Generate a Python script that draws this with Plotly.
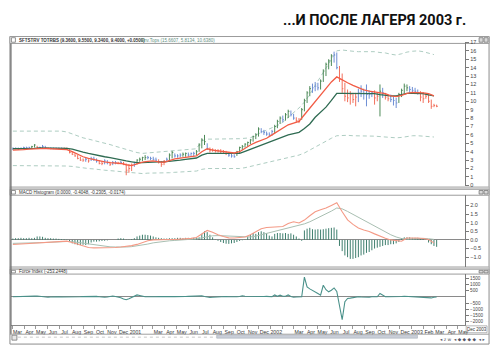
import plotly.graph_objects as go
import pandas as pd

W, H = 500, 351
TITLE = "...И ПОСЛЕ ЛАГЕРЯ 2003 г."
HEADER_PRICE = "SFTSTRV TOTRBS (9.3600, 9.5500, 9.3400, 9.4000, +0.0500)"
HEADER_ENV = "Env.Tops (15.6607, 5.8134, 10.6380)"
HEADER_MACD = "MACD Histogram (0.0000, -0.4048, -0.2305, -0.0174)"
HEADER_FORCE = "Force Index (-253.2448)"
START = "2000-03-03"

# weekly price bars
LOW = [4.2,4.3,4.2,4.3,4.3,4.4,4.4,4.4,4.5,4.4,
       4.4,4.4,4.4,4.3,4.3,4.3,4.3,4.3,4.3,4.3,
       4.2,3.8,3.6,3.4,3.1,2.9,2.8,2.8,2.7,2.9,
       2.9,2.7,2.5,2.4,2.5,2.5,2.3,2.4,2.5,2.5,
       2.6,2.4,1.2,1.5,1.7,2.2,2.5,2.8,2.9,3.0,
       3.1,3.0,3.0,2.9,2.6,2.2,2.4,2.8,3.0,3.2,
       3.3,3.3,3.3,3.4,3.4,3.4,3.5,3.5,3.6,4.0,
       4.4,4.8,4.2,3.9,4.0,3.9,3.9,3.8,3.8,3.6,
       3.4,3.3,3.3,3.5,3.8,4.2,4.5,4.6,4.9,5.2,
       5.5,5.8,6.2,6.0,5.9,5.8,5.9,6.2,6.8,7.3,
       7.5,7.7,8.0,8.2,7.8,7.5,7.4,7.8,8.8,9.8,
       10.6,11.0,11.2,11.3,11.4,12.3,13.0,13.8,14.2,14.6,
       13.8,12.3,11.0,10.0,9.9,9.6,9.8,9.4,9.9,10.5,
       10.2,9.4,10.3,10.5,9.6,10.0,8.2,10.4,10.2,10.0,
       9.9,9.5,9.2,9.8,10.5,10.9,11.2,11.0,11.0,10.9,
       10.8,10.0,9.8,10.3,9.8,9.1,9.3,9.3]
HIGH = [4.5,4.5,4.5,4.5,4.6,4.6,4.6,4.7,4.9,4.7,
        4.6,4.8,4.7,4.5,4.5,4.5,4.5,4.5,4.5,4.5,
        4.5,4.3,4.0,3.8,3.6,3.4,3.2,3.3,3.1,3.4,
        3.4,3.2,3.0,2.9,3.1,3.0,2.8,2.9,2.9,2.8,
        2.9,2.8,2.6,2.5,2.6,2.8,3.1,3.3,3.4,3.6,
        3.5,3.4,3.4,3.3,3.1,2.9,3.0,3.3,3.8,4.1,
        3.8,3.7,3.8,3.9,3.9,3.9,3.9,4.0,4.2,5.0,
        5.6,6.0,5.0,4.5,4.4,4.3,4.3,4.3,4.2,4.1,
        3.9,3.8,3.7,4.1,4.6,4.8,5.0,5.2,5.5,5.9,
        6.2,6.9,6.8,6.6,6.4,6.3,6.6,7.2,7.8,8.2,
        8.3,8.6,9.0,8.9,8.5,8.1,8.0,9.2,10.3,11.2,
        11.8,12.1,12.3,12.2,12.6,13.8,14.6,15.0,15.6,15.9,
        15.8,14.2,13.3,12.2,11.4,11.2,11.0,11.0,11.5,11.9,
        11.5,12.0,11.3,11.2,11.3,11.0,12.0,11.6,11.0,10.8,
        10.8,10.6,10.4,11.0,11.5,12.1,12.0,11.8,11.7,11.6,
        11.4,11.2,11.1,11.0,10.9,10.2,9.7,9.6]
CLOSE = [4.4,4.4,4.3,4.4,4.5,4.5,4.5,4.6,4.8,4.5,
         4.5,4.6,4.5,4.4,4.4,4.4,4.4,4.4,4.4,4.4,
         4.3,3.9,3.7,3.5,3.2,3.0,3.0,3.1,2.9,3.2,
         3.1,2.9,2.6,2.6,2.9,2.7,2.5,2.7,2.7,2.6,
         2.7,2.5,1.8,2.0,2.4,2.7,3.0,3.1,3.3,3.3,
         3.3,3.2,3.1,3.0,2.8,2.5,2.9,3.1,3.6,3.9,
         3.5,3.5,3.6,3.7,3.8,3.6,3.8,3.8,4.0,4.8,
         5.4,5.2,4.4,4.2,4.2,4.1,4.1,4.0,4.0,3.8,
         3.6,3.5,3.4,4.0,4.5,4.6,4.9,5.1,5.4,5.8,
         6.0,6.7,6.4,6.3,6.1,6.0,6.4,7.0,7.6,8.0,
         7.8,8.4,8.8,8.4,8.0,7.7,7.6,9.0,10.1,11.0,
         11.5,11.6,11.8,11.6,12.4,13.6,14.4,14.8,15.4,15.5,
         14.0,12.6,11.5,10.6,10.4,10.8,10.2,10.5,11.0,11.2,
         10.9,10.8,10.8,11.0,10.4,10.6,11.2,11.0,10.5,10.3,
         10.2,10.1,9.8,10.8,11.3,11.8,11.6,11.4,11.3,11.2,
         11.0,10.5,10.3,10.6,10.0,9.4,9.5,9.4]
IMPULSE = ("bbbbbbbggr" "bbbrbbbbbr" "rrrrrrrbrb" "bbrrbbrbbr" "brrrrbgggg"
           "bbbbrrrbgg" "bbbggbbbgg" "ggbrrrrrrr" "bbbggggggg" "ggbbbbbggg"
           "bggbbrrggg" "gbbbgggggb" "brrrrrrrbb" "bbbbrrgbrr" "bbbggggbbb"
           "brrrrrrr")

# every second week
RED_MA = [4.2,4.2,4.25,4.3,4.35,4.4,4.4,4.35,4.3,4.3,
          4.25,4.0,3.7,3.4,3.2,3.05,2.9,2.8,2.7,2.65,
          2.6,2.45,2.35,2.55,2.75,2.85,2.9,2.8,2.75,2.95,
          3.15,3.25,3.35,3.4,3.5,4.0,4.35,4.2,4.1,4.0,
          3.9,3.85,4.0,4.45,4.8,5.1,5.4,5.6,6.0,6.4,
          6.8,7.2,7.4,7.6,8.4,9.2,10.0,10.8,11.5,12.3,
          12.9,12.5,12.2,11.9,11.6,11.35,11.2,11.1,11.0,10.9,
          10.65,10.55,10.7,10.95,11.05,11.05,11.0,10.9,10.65]
GREEN_MA = [4.35,4.35,4.4,4.4,4.4,4.45,4.45,4.45,4.45,4.45,
            4.4,4.3,4.1,3.95,3.8,3.65,3.5,3.4,3.3,3.15,
            3.0,2.9,2.8,2.7,2.7,2.75,2.8,2.8,2.8,2.85,
            2.95,3.0,3.1,3.15,3.25,3.6,3.8,3.8,3.8,3.75,
            3.75,3.75,3.8,4.05,4.3,4.55,4.8,5.0,5.3,5.55,
            5.8,6.0,6.15,6.3,6.75,7.3,8.1,8.7,9.3,10.1,
            10.95,10.95,10.95,10.95,10.95,10.95,10.95,10.9,10.8,10.7,
            10.65,10.65,10.8,10.95,10.95,10.95,10.9,10.75,10.65]
ENV_UP = [6.45,6.45,6.45,6.45,6.5,6.5,6.5,6.5,6.5,6.45,
          6.35,6.1,5.85,5.65,5.5,5.35,5.15,5.0,4.85,4.65,
          4.45,4.3,4.1,3.9,3.8,3.85,3.95,4.0,4.05,4.1,
          4.15,4.2,4.25,4.3,4.35,5.3,5.5,5.5,5.5,5.5,
          5.5,5.5,5.55,5.6,5.65,6.0,6.3,6.6,6.85,7.1,
          7.5,8.1,8.6,9.2,9.9,10.8,11.9,12.9,13.9,14.9,
          16.0,16.1,16.0,15.95,15.9,15.9,15.85,15.9,15.8,15.75,
          15.6,15.5,15.65,15.85,15.95,16.0,15.9,15.75,15.55]
ENV_LO = [2.35,2.35,2.35,2.35,2.35,2.35,2.35,2.35,2.35,2.35,
          2.3,2.25,2.15,2.1,2.0,1.95,1.85,1.8,1.75,1.7,
          1.6,1.55,1.5,1.45,1.4,1.45,1.45,1.5,1.5,1.5,
          1.55,1.6,1.65,1.65,1.7,1.9,2.0,2.0,2.0,2.0,
          2.0,2.0,2.0,2.1,2.25,2.4,2.55,2.7,2.85,3.0,
          3.1,3.25,3.4,3.6,3.85,4.2,4.55,4.9,5.3,5.6,
          5.9,5.95,5.95,5.9,5.9,5.85,5.85,5.85,5.8,5.75,
          5.7,5.65,5.7,5.8,5.9,5.9,5.85,5.8,5.75]
MACD = [-0.27,-0.25,-0.22,-0.2,-0.17,-0.14,-0.12,-0.1,-0.08,-0.07,
        -0.07,-0.15,-0.24,-0.35,-0.44,-0.46,-0.46,-0.46,-0.46,-0.44,
        -0.41,-0.38,-0.33,-0.26,-0.16,-0.05,0.0,0.02,0.02,0.02,
        0.02,0.03,0.06,0.09,0.14,0.35,0.55,0.45,0.3,0.2,
        0.12,0.11,0.14,0.17,0.3,0.5,0.65,0.72,0.74,0.76,
        0.78,0.95,1.05,0.98,1.15,1.4,1.63,1.75,1.85,2.0,
        2.15,1.63,1.16,0.9,0.69,0.58,0.49,0.35,0.21,0.1,
        0.0,-0.06,-0.08,0.11,0.12,0.11,0.08,0.02,-0.17]
SIGNAL = [-0.2,-0.2,-0.2,-0.19,-0.18,-0.16,-0.15,-0.13,-0.12,-0.1,
          -0.09,-0.1,-0.14,-0.19,-0.25,-0.3,-0.34,-0.37,-0.4,-0.41,
          -0.42,-0.41,-0.39,-0.35,-0.3,-0.24,-0.17,-0.12,-0.08,-0.05,
          -0.03,-0.01,0.01,0.03,0.06,0.12,0.2,0.24,0.25,0.24,
          0.22,0.2,0.18,0.16,0.17,0.22,0.3,0.38,0.45,0.52,
          0.59,0.67,0.76,0.83,0.93,1.05,1.2,1.35,1.5,1.67,
          1.85,1.8,1.65,1.48,1.3,1.1,0.93,0.77,0.6,0.45,
          0.3,0.17,0.08,0.05,0.07,0.09,0.09,0.07,0.03]
# weekly
HIST = [0.08,0.1,0.1,0.12,0.1,0.1,0.12,0.1,0.12,
        0.2,0.2,0.18,
        0.12,0.1,0.1,0.08,0.08,0.06,
        0.05,0.04,0.02,
        -0.1,-0.2,-0.25,-0.3,-0.3,-0.28,-0.3,-0.25,
        -0.15,-0.1,-0.1,-0.08,-0.06,-0.05,-0.03,
        0,0,0,
        0.08,0.1,0.08,
        0.02,0.02,0.05,0.1,
        0.2,0.25,0.3,0.3,0.28,0.25,0.2,0.15,0.12,
        0.1,0.08,0.08,0.1,0.1,
        0.1,0.12,0.12,0.1,0.12,0.12,0.1,0.12,0.15,0.15,
        0.35,0.5,0.45,
        0.3,0.15,
        0.02,-0.05,
        -0.12,-0.18,-0.22,-0.23,-0.2,-0.18,-0.12,
        -0.06,-0.02,0.02,
        0.2,0.3,0.4,0.35,
        0.45,0.5,0.45,0.4,
        0.25,0.2,
        0.35,0.4,0.4,0.38,0.4,
        0.35,0.38,0.3,0.2,
        0.08,-0.05,
        0.55,0.65,0.7,0.62,0.6,0.62,0.6,0.62,0.65,
        0.68,0.7,0.72,0.6,
        -0.35,
        -0.65,
        -0.9,-1.0,-1.1,-1.1,-1.05,-1.0,
        -0.9,-0.85,-0.75,-0.7,
        -0.6,-0.5,-0.45,-0.4,
        -0.35,-0.3,-0.3,-0.25,-0.25,
        -0.2,-0.12,
        0.1,0.15,0.15,0.15,0.12,0.12,0.12,0.1,
        0.05,0.02,
        -0.15,-0.25,-0.35,-0.4]
FORCE = [0,0,10,-10,0,0,20,30,
         50,60,30,
         0,-20,-30,-20,0,10,0,-20,-20,
         -40,-40,-60,-30,-20,
         0,10,20,20,40,
         40,30,0,-30,
         -40,-20,
         40,60,30,0,
         -80,-180,-240,-150,-40,
         80,150,110,40,
         0,0,-20,-20,0,10,20,0,0,
         20,20,10,0,-10,0,20,30,40,
         60,80,110,90,30,
         -40,-60,-40,-20,0,
         0,20,20,0,-20,-20,0,30,
         80,40,30,40,20,0,-20,
         0,20,30,20,0,
         150,40,130,40,40,
         150,30,-40,-20,-20,
         0,
         1590,790,640,530,360,265,130,930,570,400,530,715,430,
         -660,-1850,-400,-130,-110,-70,-40,
         0,-20,-40,-70,-40,0,20,0,
         270,140,0,0,
         0,-20,-40,0,20,40,30,0,
         -30,-40,-60,-30,-40,-70,-60,-90,-40,-20]

MONTH_LABELS = ["Mar","Apr","May","Jun","Jul","Aug","Sep","Oct","Nov","Dec","2001","",
                "Mar","Apr","May","Jun","Jul","Aug","Sep","Oct","Nov","Dec","2002","",
                "Mar","Apr","May","Jun","Jul","Aug","Sep","Oct","Nov","Dec","2003","Feb",
                "Mar","Apr","May"]
PRICE_TICKS = list(range(0, 18))
MACD_TICKS = [-1.0, -0.5, 0.0, 0.5, 1.0, 1.5, 2.0]
FORCE_TICKS = [-2000, -1500, -1000, -500, 500, 1000, 1500]


def PX(x):
    return x / W


def PY(y):
    return 1 - y / H


dates = pd.date_range(START, periods=len(CLOSE), freq="7D")
dates2 = dates[::2]
month_starts = pd.date_range("2000-03-01", periods=len(MONTH_LABELS), freq="MS")
month_mids = month_starts + pd.Timedelta(days=14)

fig = go.Figure()

for env in (ENV_UP, ENV_LO):
    fig.add_trace(go.Scatter(x=dates2, y=env, mode="lines", yaxis="y",
                             line=dict(color="#aecdc2", width=1, dash="4px,3px")))

bar_colors = {"g": "#4d8a58", "b": "#6d8ed4", "r": "#f2705c"}
for code, col in bar_colors.items():
    xs, ys = [], []
    for d, lo, hi, c, k in zip(dates, LOW, HIGH, CLOSE, IMPULSE):
        if k != code:
            continue
        xs += [d, d, None, d, d + pd.Timedelta(days=3), None]
        ys += [lo, hi, None, c, c, None]
    fig.add_trace(go.Scatter(x=xs, y=ys, mode="lines", yaxis="y",
                             line=dict(color=col, width=1)))

fig.add_trace(go.Scatter(x=dates2, y=GREEN_MA, mode="lines", yaxis="y",
                         line=dict(color="#2f6b52", width=1.3)))
fig.add_trace(go.Scatter(x=dates2, y=RED_MA, mode="lines", yaxis="y",
                         line=dict(color="#f25c45", width=1.3)))

hx, hy = [], []
for d, v in zip(dates, HIST):
    hx += [d, d, None]
    hy += [0, v, None]
fig.add_trace(go.Scatter(x=hx, y=hy, mode="lines", yaxis="y2",
                         line=dict(color="#3f7f6e", width=1)))
fig.add_trace(go.Scatter(x=dates2, y=SIGNAL, mode="lines", yaxis="y2",
                         line=dict(color="#a9bfb2", width=1)))
fig.add_trace(go.Scatter(x=dates2, y=MACD, mode="lines", yaxis="y2",
                         line=dict(color="#f49a86", width=1.1)))

fig.add_trace(go.Scatter(x=dates, y=FORCE, mode="lines", yaxis="y3",
                         line=dict(color="#4a918a", width=1.1)))

FONT = "Liberation Sans, Arial, sans-serif"
tickfont = dict(family=FONT, size=5.5, color="#444")
yax_common = dict(side="right", anchor="x", showgrid=False, showline=True,
                  linecolor="#7a7a7a", linewidth=1, ticks="outside", ticklen=3,
                  tickcolor="#7a7a7a", fixedrange=True)

fig.update_layout(
    width=W, height=H, margin=dict(l=0, r=0, t=0, b=0),
    paper_bgcolor="white", plot_bgcolor="white", showlegend=False,
    xaxis=dict(domain=[PX(11), PX(468)], range=["2000-02-27", "2003-05-20"],
               type="date", anchor="y3", showgrid=False, showline=True,
               linecolor="#8a8a8a", tickmode="array", tickvals=month_mids,
               ticktext=MONTH_LABELS, ticks="", tickangle=0, ticklabelstandoff=1,
               ticklabeloverflow="allow",
               tickfont=dict(family=FONT, size=5.2, color="#333"),
               minor=dict(tickmode="array", tickvals=month_starts, ticks="outside",
                          ticklen=3, tickcolor="#9a9a9a", showgrid=False)),
    yaxis=dict(domain=[PY(186), PY(40)], range=[-0.12, 17.0], tickfont=tickfont,
               tickvals=PRICE_TICKS, zeroline=False, **yax_common),
    yaxis2=dict(domain=[PY(268), PY(195)], range=[-1.58, 2.59], tickfont=tickfont,
                tickvals=MACD_TICKS, tickformat=".1f", zeroline=True,
                zerolinecolor="#8a8a8a", zerolinewidth=1, **yax_common),
    yaxis3=dict(domain=[PY(327), PY(275)], range=[-2300, 1830],
                tickfont=dict(family=FONT, size=4.6, color="#444"),
                tickvals=FORCE_TICKS, zeroline=True,
                zerolinecolor="#8a8a8a", zerolinewidth=1, **yax_common),
)

shapes = []


def rect(x0, y0, x1, y1, line="#9a9a9a", fill=None, lw=1):
    d = dict(type="rect", xref="paper", yref="paper", x0=PX(x0), x1=PX(x1),
             y0=PY(y1), y1=PY(y0), line=dict(color=line, width=lw), layer="below")
    if fill:
        d["fillcolor"] = fill
    return d


def hline(y, x0, x1, color="#9a9a9a", lw=1):
    return dict(type="line", xref="paper", yref="paper", x0=PX(x0), x1=PX(x1),
                y0=PY(y), y1=PY(y), line=dict(color=color, width=lw))


def vline(x, y0, y1, color="#9a9a9a", lw=1):
    return dict(type="line", xref="paper", yref="paper", x0=PX(x), x1=PX(x),
                y0=PY(y0), y1=PY(y1), line=dict(color=color, width=lw))


shapes.append(rect(10, 34, 492, 346, line="#8c8c8c"))
for top, bot in ((34, 41), (189, 195), (270, 275)):
    shapes.append(rect(10, top, 492, bot, line="#9c9c9c", fill="white"))
    shapes.append(rect(11.5, top + 1.2, 15.5, bot - 1.2, line="#777", lw=0.8))
    shapes.append(rect(482, top + 1.2, 486, bot - 1.2, line="#777", fill="#d8d8d8", lw=0.8))
    shapes.append(rect(487, top + 1.2, 491, bot - 1.2, line="#777", fill="#d8d8d8", lw=0.8))
for top, bot in ((186.5, 189), (267.5, 270)):
    shapes.append(rect(10, top, 492, bot, line="#a8a8a8", fill="#cfcfcf", lw=0.6))
shapes.append(vline(11, 41, 336, color="#666", lw=1.2))
shapes.append(hline(336, 10, 492, color="#a0a0a0"))
shapes.append(dict(type="line", xref="paper", yref="paper", x0=PX(18), x1=PX(218),
                   y0=PY(339), y1=PY(339), line=dict(color="#c8c8c8", width=1, dash="dot")))
shapes.append(rect(218, 337, 420, 340, line="#aab0bc", fill="#c9ced8", lw=0.6))
shapes.append(rect(12, 337, 17, 342, line="#777", fill="#e8e8e8", lw=0.8))
shapes.append(rect(469, 327.5, 490, 334.5, line="#888", fill="white", lw=0.6))
fig.update_layout(shapes=shapes)

ann = []
ann.append(dict(text="<b>" + TITLE + "</b>", x=PX(471), y=PY(18), xref="paper", yref="paper",
                xanchor="right", yanchor="middle", showarrow=False,
                font=dict(family="Roboto, Liberation Sans, Arial, sans-serif",
                          size=14.5, color="#111")))
hdr_font = dict(family=FONT, size=4.5, color="#333")
ann.append(dict(text="<b>" + HEADER_PRICE + "</b>", x=PX(17), y=PY(37.7), xref="paper", yref="paper",
                xanchor="left", yanchor="middle", showarrow=False, font=hdr_font))
ann.append(dict(text=HEADER_ENV, x=PX(140), y=PY(37.7), xref="paper", yref="paper",
                xanchor="left", yanchor="middle", showarrow=False,
                font=dict(family=FONT, size=4.5, color="#5f8f7f")))
ann.append(dict(text=HEADER_MACD, x=PX(17), y=PY(192), xref="paper", yref="paper",
                xanchor="left", yanchor="middle", showarrow=False, font=hdr_font))
ann.append(dict(text=HEADER_FORCE, x=PX(17), y=PY(272.5), xref="paper", yref="paper",
                xanchor="left", yanchor="middle", showarrow=False, font=hdr_font))
ann.append(dict(text="Dec 2003", x=PX(479.5), y=PY(331), xref="paper", yref="paper",
                xanchor="center", yanchor="middle", showarrow=False,
                font=dict(family=FONT, size=4.5, color="#333")))
ann.append(dict(text="◂ z w  ◂ ◆ ◆ ◆ ◆  ◂ ▸", x=PX(490), y=PY(341), xref="paper", yref="paper",
                xanchor="right", yanchor="middle", showarrow=False,
                font=dict(family="DejaVu Sans, sans-serif", size=4.5, color="#556")))
fig.update_layout(annotations=ann)

fig.write_html("out.html")
